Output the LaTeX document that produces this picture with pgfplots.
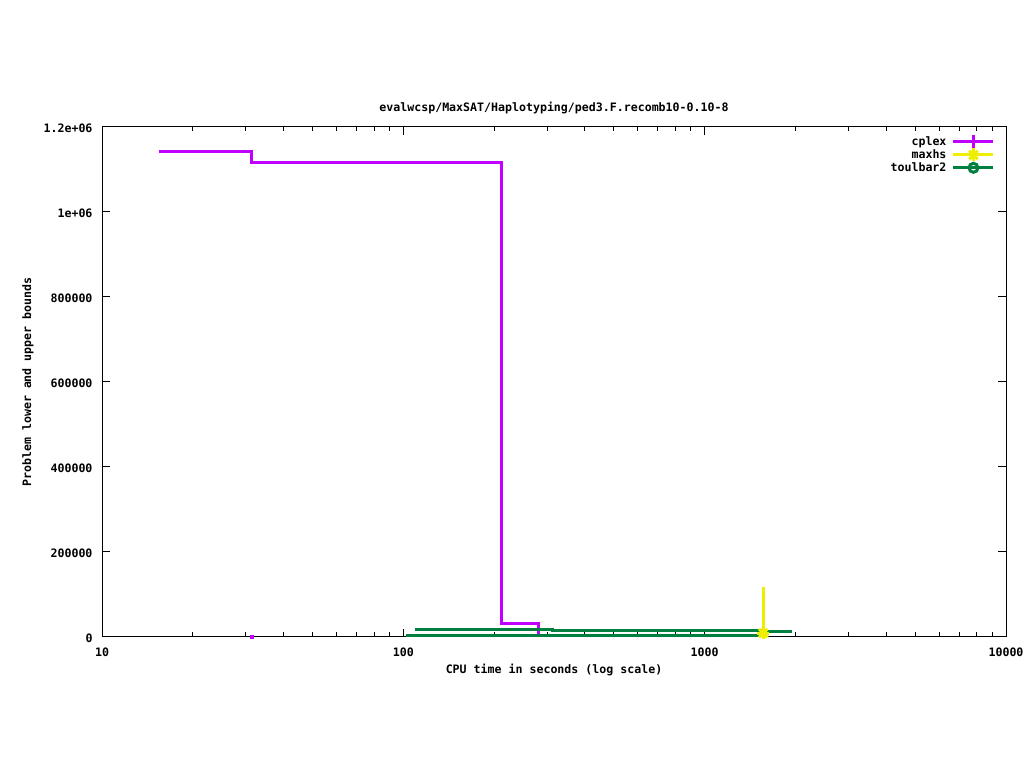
\documentclass[border=0pt]{standalone}
\usepackage{pgfplots}
\pgfplotsset{compat=1.18}
\usepackage{fontspec}
\setmonofont{DejaVu Sans Mono}
\definecolor{cplexc}{RGB}{192,0,255}
\definecolor{maxhsc}{RGB}{238,238,0}
\definecolor{tbc}{RGB}{0,128,64}
\newcommand\gp{\fontsize{11.6bp}{13bp}\selectfont\ttfamily\bfseries}
\pgfplotsset{
 gpline/.style={legend image code/.code={\draw[mark repeat=2,mark phase=2,##1] plot coordinates {(0bp,0bp) (20bp,0bp) (40bp,0bp)};}},
 gpstar/.style={legend image code/.code={\draw[##1] (0bp,0bp)--(40bp,0bp); \draw[##1, mark=+, mark size=6.5bp] plot coordinates {(20bp,0bp)}; \draw[##1, mark=x, mark size=6bp] plot coordinates {(20bp,0bp)};}},
}
\begin{document}
\begin{tikzpicture}
\path[use as bounding box] (0,0) rectangle (1024bp,768bp);
\begin{axis}[
 at={(102bp,131bp)}, anchor=south west,
 scale only axis, width=904bp, height=510bp,
 xmode=log, xmin=10, xmax=10000, ymin=0, ymax=1200000,
 clip=false,
 axis line style={line width=1bp},
 every tick/.style={black, line width=1bp},
 tick align=inside,
 major tick length=8bp, minor tick length=4.5bp,
 xtick={10,100,1000,10000}, xticklabels={10,100,1000,10000},
 minor xtick={20,30,40,50,60,70,80,90,200,300,400,500,600,700,800,900,2000,3000,4000,5000,6000,7000,8000,9000},
 ytick={0,200000,400000,600000,800000,1000000,1200000},
 yticklabels={0,200000,400000,600000,800000,1e+06,1.2e+06},
 scaled y ticks=false,
 tick label style={font=\gp},
 xticklabel style={yshift=-7bp},
 yticklabel style={xshift=-6bp, yshift=-1bp},
 /pgf/number format/assume math mode=true,
 title={evalwcsp/MaxSAT/Haplotyping/ped3.F.recomb10-0.10-8},
 title style={font=\gp, at={(axis description cs:0.5,1)}, anchor=base, yshift=10bp},
 xlabel={CPU time in seconds (log scale)},
 xlabel style={font=\gp, at={(axis description cs:0.5,0)}, anchor=base, yshift=-37bp},
 ylabel={Problem lower and upper bounds},
 ylabel style={font=\gp, at={(axis description cs:-0.0785,0.5)}, anchor=base},
 legend style={draw=none, fill=none, at={(axis description cs:0.988,0.985)}, anchor=north east, font=\gp, row sep=-0.5bp, inner sep=0pt, nodes={inner sep=1.5bp}},
 legend cell align=right, legend plot pos=right,
 gpline,
]
\addlegendimage{cplexc, line width=3bp, mark=+, mark size=7bp}
\addlegendentry{cplex\kern4bp\null}
\addlegendimage{maxhsc, line width=3bp, gpstar}
\addlegendentry{maxhs\kern4bp\null}
\addlegendimage{tbc, line width=3bp, mark=o, mark size=4.5bp}
\addlegendentry{toulbar2\kern4bp\null}
% cplex
\addplot[cplexc, line width=3bp, forget plot] coordinates {
(15.4,1143500) (31.4,1143500) (31.4,1115300) (211,1115300) (211,30600) (280.5,30600) (280.5,7000)};
\addplot[cplexc, only marks, mark=square*, mark size=1.5bp, forget plot] coordinates {(31.4,1500)};
% toulbar2
\addplot[tbc, line width=3bp, forget plot] coordinates {
(109.3,18800) (312,18800) (312,15800) (1565,15800) (1565,13400) (1945,13400)};
\addplot[tbc, line width=3bp, forget plot] coordinates {(102,3200) (1565,3200)};
% maxhs
\addplot[maxhsc, line width=3bp, forget plot] coordinates {(1565,118400) (1565,9000)};
\addplot[maxhsc, only marks, mark=+, mark size=6bp, line width=3bp, forget plot] coordinates {(1565,9000)};
\addplot[maxhsc, only marks, mark=x, mark size=6bp, line width=3bp, forget plot] coordinates {(1565,9000)};
\end{axis}
\end{tikzpicture}
\end{document}
